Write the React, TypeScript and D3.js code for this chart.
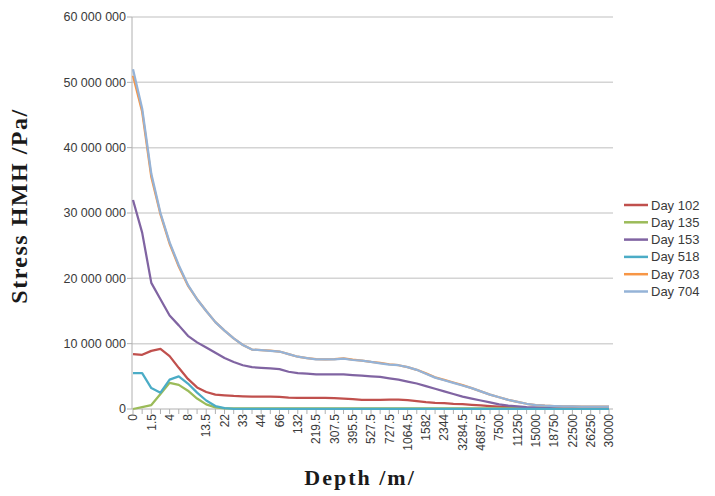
import React from "react";
import * as d3 from "d3";

// depth categories (m); only every other one gets a label
const depths = [
  "0", "0.5", "1.5", "2.5", "4", "6", "8", "10.5", "13.5", "17.5", "22", "27.5", "33", "38.5",
  "44", "55", "66", "99", "132", "175.5", "219.5", "263.5", "307.5", "351.5", "395.5", "461.5",
  "527.5", "627.5", "727.5", "896", "1064.5", "1323", "1582", "1963", "2344", "2814", "3284.5",
  "3986", "4687.5", "6094", "7500", "9375", "11250", "13125", "15000", "16875", "18750", "20625",
  "22500", "24375", "26250", "28125", "30000",
];

const yTicks = [0, 10e6, 20e6, 30e6, 40e6, 50e6, 60e6];

// values in millions of Pa
const day102 = [
  8.4, 8.3, 8.9, 9.2, 8.1, 6.3, 4.6, 3.3, 2.6, 2.2, 2.1, 2.0, 1.95, 1.9, 1.9, 1.9, 1.85, 1.75,
  1.7, 1.7, 1.7, 1.7, 1.65, 1.6, 1.5, 1.4, 1.4, 1.4, 1.45, 1.45, 1.35, 1.2, 1.05, 0.95, 0.9, 0.8,
  0.75, 0.65, 0.55, 0.45, 0.35, 0.28, 0.2, 0.15, 0.12, 0.1, 0.08, 0.08, 0.08, 0.08, 0.08, 0.08, 0.08,
];
const day135 = [
  0, 0.3, 0.6, 2.3, 4.0, 3.7, 2.8, 1.6, 0.7, 0.25, 0.1, 0.08, 0.08, 0.08, 0.08, 0.08, 0.08, 0.08,
  0.08, 0.08, 0.08, 0.08, 0.08, 0.08, 0.08, 0.08, 0.08, 0.08, 0.08, 0.08, 0.08, 0.08, 0.08, 0.08,
  0.08, 0.08, 0.08, 0.08, 0.08, 0.08, 0.08, 0.08, 0.08, 0.08, 0.08, 0.08, 0.08, 0.08, 0.08, 0.08,
  0.08, 0.08, 0.08,
];
const day153 = [
  32, 27, 19.3, 16.8, 14.3, 12.8, 11.2, 10.2, 9.4, 8.6, 7.8, 7.2, 6.7, 6.4, 6.3, 6.2, 6.1, 5.7,
  5.5, 5.4, 5.3, 5.3, 5.3, 5.3, 5.2, 5.1, 5.0, 4.9, 4.7, 4.5, 4.2, 3.9, 3.5, 3.1, 2.7, 2.3, 1.9,
  1.6, 1.3, 1.0, 0.7, 0.5, 0.4, 0.3, 0.25, 0.22, 0.2, 0.2, 0.2, 0.2, 0.2, 0.2, 0.2,
];
const day518 = [
  5.5, 5.5, 3.2, 2.5, 4.5, 5.0, 3.9, 2.5, 1.3, 0.45, 0.12, 0.03, 0.03, 0.03, 0.03, 0.03, 0.03,
  0.03, 0.03, 0.03, 0.03, 0.03, 0.03, 0.03, 0.03, 0.03, 0.03, 0.03, 0.03, 0.03, 0.03, 0.03, 0.03,
  0.03, 0.03, 0.03, 0.03, 0.03, 0.03, 0.03, 0.03, 0.03, 0.03, 0.03, 0.03, 0.03, 0.03, 0.03, 0.03,
  0.03, 0.03, 0.03, 0.03,
];
const day703 = [
  51, 45.5, 35.5, 29.8, 25.3, 21.8, 18.9, 16.8, 15, 13.3, 12, 10.8, 9.8, 9.1, 9.0, 8.95, 8.8, 8.4,
  8.0, 7.8, 7.65, 7.6, 7.65, 7.75, 7.55, 7.4, 7.2, 7.05, 6.85, 6.7, 6.4, 6.0, 5.45, 4.85, 4.45,
  4.05, 3.65, 3.2, 2.7, 2.2, 1.8, 1.4, 1.1, 0.8, 0.6, 0.5, 0.45, 0.4, 0.4, 0.38, 0.35, 0.35, 0.35,
];
const day704 = [
  52, 46, 36, 30, 25.5, 22, 19, 16.8, 15, 13.3, 12, 10.8, 9.8, 9.1, 9.0, 8.9, 8.8, 8.4, 8.0, 7.8,
  7.6, 7.6, 7.6, 7.7, 7.5, 7.4, 7.2, 7.0, 6.8, 6.7, 6.4, 6.0, 5.4, 4.8, 4.4, 4.0, 3.6, 3.2, 2.7,
  2.2, 1.8, 1.4, 1.1, 0.8, 0.6, 0.5, 0.45, 0.4, 0.4, 0.38, 0.35, 0.35, 0.35,
];

const series = [
  { name: "Day 102", color: "#c0504d", values: day102 },
  { name: "Day 135", color: "#9bbb59", values: day135 },
  { name: "Day 153", color: "#8064a2", values: day153 },
  { name: "Day 518", color: "#4bacc6", values: day518 },
  { name: "Day 703", color: "#f79646", values: day703 },
  { name: "Day 704", color: "#95b3d7", values: day704 },
];

const fmt = (v: number) => d3.format(",")(v).replace(/,/g, " ");

export default function App() {
  const left = 132;
  const right = 613;
  const top = 17;
  const bottom = 409;

  const x = d3.scalePoint<number>().domain(depths.map((_, i) => i)).range([133, 609]);
  const y = d3.scaleLinear().domain([0, 60e6]).range([bottom, top]);
  const line = d3
    .line<number>()
    .x((_, i) => x(i) as number)
    .y((d) => y(d * 1e6));

  const sans = "'Liberation Sans', Arial, sans-serif";
  const serif = "'Liberation Serif', 'Times New Roman', serif";

  return (
    <svg width={715} height={496} style={{ position: "absolute", left: 0, top: 0, background: "#fff" }}>
      {yTicks.map((t) => (
        <g key={t}>
          {t > 0 && <line x1={left} x2={right} y1={y(t)} y2={y(t)} stroke="#d4d4d4" strokeWidth={1.5} />}
          <line x1={left - 5} x2={left} y1={y(t)} y2={y(t)} stroke="#b0b0b0" />
          <text x={left - 6} y={y(t)} dy="0.35em" textAnchor="end" fontFamily={sans} fontSize={12.5} fill="#3a3a3a">
            {fmt(t)}
          </text>
        </g>
      ))}
      <line x1={left} x2={left} y1={top} y2={bottom} stroke="#b0b0b0" />
      <line x1={left} x2={right} y1={bottom} y2={bottom} stroke="#b0b0b0" />
      {depths.map((d, i) => (
        <g key={d}>
          <line x1={x(i)} x2={x(i)} y1={bottom} y2={bottom + 5} stroke="#b0b0b0" />
          {i % 2 === 0 && (
            <text
              transform={`translate(${x(i)},${bottom + 5}) rotate(-90)`}
              dy="0.35em"
              textAnchor="end"
              fontFamily={sans}
              fontSize={12}
              fill="#3a3a3a"
            >
              {d}
            </text>
          )}
        </g>
      ))}
      {series.map((s) => (
        <path key={s.name} d={line(s.values) ?? ""} fill="none" stroke={s.color} strokeWidth={2.25} strokeLinejoin="round" />
      ))}
      {series.map((s, i) => (
        <g key={s.name} transform={`translate(624,${205 + i * 17.3})`}>
          <line x1={0} x2={24} y1={0} y2={0} stroke={s.color} strokeWidth={2.5} />
          <text x={27} dy="0.35em" fontFamily={sans} fontSize={13} fill="#3a3a3a">
            {s.name}
          </text>
        </g>
      ))}
      <text
        transform="translate(27,206) rotate(-90)"
        textAnchor="middle"
        fontFamily={serif}
        fontWeight="bold"
        fontSize={24}
        letterSpacing={1.5}
        fill="#1a1a1a"
      >
        Stress HMH /Pa/
      </text>
      <text x={360} y={485} textAnchor="middle" fontFamily={serif} fontWeight="bold" fontSize={22} letterSpacing={2} fill="#1a1a1a">
        Depth /m/
      </text>
    </svg>
  );
}
